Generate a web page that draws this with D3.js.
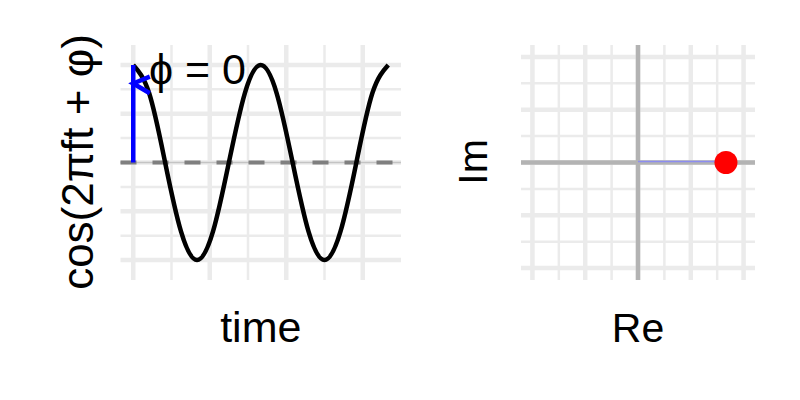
<!DOCTYPE html>
<html><head><meta charset="utf-8">
<script src="https://cdn.jsdelivr.net/npm/d3@7"></script>
<style>body{margin:0;background:#fff}text{font-family:"Liberation Sans",Arial,sans-serif;fill:#000}</style>
</head><body><svg id="c" width="800" height="400"></svg>
<script>
// ---- data ----
const timeVals = [0,0.125,0.25,0.375,0.5,0.625,0.75,0.875,1,1.125,1.25,1.375,1.5,1.625,1.75,1.875,2];
const waveVals = [1,0.71,0,-0.71,-1,-0.71,0,0.71,1,0.71,0,-0.71,-1,-0.71,0,0.71,1];
const phaseLabel = "ϕ = 0";
const arrowHead = [[0.13,0.88],[0.0,0.81],[0.13,0.71]];
const phasor = {re:1, im:0};
const leftXMajor = [0,0.6,1.2,1.8], leftXMinor = [0.3,0.9,1.5];
const leftYMajor = [-1,-0.5,0,0.5,1], leftYMinor = [-0.75,-0.25,0.25,0.75];
const rightMajor = [-1.2,-0.6,0,0.6,1.2], rightMinor = [-0.9,-0.3,0.3,0.9];
const labels = {leftX:"time", leftY:"cos(2πft + φ)", rightX:"Re", rightY:"Im"};

const svg = d3.select("#c");
const GRID="#ebebeb";

// ---- left panel ----
const L = {x0:120.5, x1:401, y0:45, y1:280};
const lx = d3.scaleLinear().domain([-0.1,2.1]).range([L.x0,L.x1]);
const ly = d3.scaleLinear().domain([-1.205,1.205]).range([L.y1,L.y0]);
const gl = svg.append("g");
function grid(g, xs, ys, sx, sy, P, w){
  g.selectAll(null).data(xs).join("line").attr("x1",d=>sx(d)).attr("x2",d=>sx(d)).attr("y1",P.y0).attr("y2",P.y1).attr("stroke",GRID).attr("stroke-width",w);
  g.selectAll(null).data(ys).join("line").attr("y1",d=>sy(d)).attr("y2",d=>sy(d)).attr("x1",P.x0).attr("x2",P.x1).attr("stroke",GRID).attr("stroke-width",w);
}
grid(gl, leftXMinor, leftYMinor, lx, ly, L, 2.5);
grid(gl, leftXMajor, leftYMajor, lx, ly, L, 4.5);
gl.append("line").attr("x1",L.x0).attr("x2",L.x1).attr("y1",ly(0)).attr("y2",ly(0)).attr("stroke","#c4c4c4").attr("stroke-width",1.5);
gl.append("line").attr("x1",L.x0).attr("x2",L.x1).attr("y1",ly(0)).attr("y2",ly(0)).attr("stroke","#7f7f7f").attr("stroke-width",4).attr("stroke-dasharray","16,16");
const pts = timeVals.map((t,i)=>[t,waveVals[i]]);
gl.append("path").attr("d",d3.line().x(d=>lx(d[0])).y(d=>ly(d[1])).curve(d3.curveNatural)(pts))
  .attr("fill","none").attr("stroke","#000").attr("stroke-width",4.5);
gl.append("line").attr("x1",lx(0)).attr("x2",lx(0)).attr("y1",ly(0)).attr("y2",ly(waveVals[0])).attr("stroke","#0000ff").attr("stroke-width",4.5);
gl.append("path").attr("d",d3.line().x(d=>lx(d[0])).y(d=>ly(d[1]))(arrowHead)).attr("fill","none").attr("stroke","#0000ff").attr("stroke-width",4.5);
gl.append("text").attr("x",149).attr("y",84).attr("font-size",43).text(phaseLabel);
gl.append("text").attr("x",(L.x0+L.x1)/2).attr("y",342).attr("text-anchor","middle").attr("font-size",43).text(labels.leftX);
gl.append("text").attr("transform","translate(93,162) rotate(-90)").attr("text-anchor","middle").attr("font-size",44).text(labels.leftY);

// ---- right panel ----
const R = {x0:521, x1:755, y0:45, y1:280};
const rx = d3.scaleLinear().domain([-1.33,1.33]).range([R.x0,R.x1]);
const ry = d3.scaleLinear().domain([-1.335,1.335]).range([R.y1,R.y0]);
const gr = svg.append("g");
grid(gr, rightMinor, rightMinor, rx, ry, R, 2.5);
grid(gr, rightMajor, rightMajor, rx, ry, R, 4.5);
gr.append("line").attr("x1",rx(0)).attr("x2",rx(0)).attr("y1",R.y0).attr("y2",R.y1).attr("stroke","#b3b3b3").attr("stroke-width",4.5);
gr.append("line").attr("y1",ry(0)).attr("y2",ry(0)).attr("x1",R.x0).attr("x2",R.x1).attr("stroke","#b3b3b3").attr("stroke-width",4.5);
gr.append("line").attr("x1",rx(0)).attr("x2",rx(phasor.re)).attr("y1",ry(0)-1).attr("y2",ry(phasor.im)-1).attr("stroke","#8c8cf0").attr("stroke-width",1.5);
gr.append("circle").attr("cx",rx(phasor.re)).attr("cy",ry(phasor.im)).attr("r",11.5).attr("fill","#ff0000");
gr.append("text").attr("x",rx(0)).attr("y",342).attr("text-anchor","middle").attr("font-size",41).text(labels.rightX);
gr.append("text").attr("transform","translate(487,162) rotate(-90)").attr("text-anchor","middle").attr("font-size",41).text(labels.rightY);
</script></body></html>
